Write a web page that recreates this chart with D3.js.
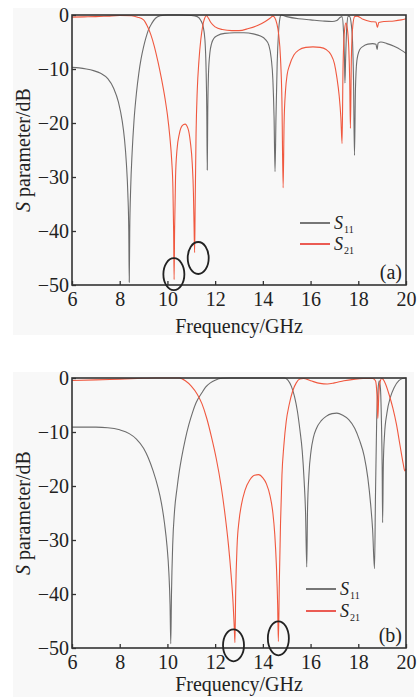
<!DOCTYPE html>
<html><head><meta charset="utf-8">
<script src="https://cdn.jsdelivr.net/npm/d3@7"></script>
<style>body{margin:0;background:#fff}svg{display:block}text{font-family:"Liberation Serif","Times New Roman",serif;fill:#222}</style>
</head><body><svg id="c" width="418" height="697"></svg>
<script>
// ---- data ----
const freqTicks = [6, 8, 10, 12, 14, 16, 18, 20];
const dbTicks = [0, -10, -20, -30, -40, -50];
const seriesNames = ["S11", "S21"];
const panelLabels = ["(a)", "(b)"];

const s11A = [[6,-9.7],[6.3,-9.8],[6.6,-10],[6.9,-10.3],[7.2,-10.8],[7.5,-11.8],[7.75,-13.6],[7.95,-16.2],[8.1,-19.5],[8.2,-23],[8.28,-27.5],[8.34,-33],[8.38,-40],[8.4,-49.5],[8.42,-40],[8.46,-32],[8.52,-25.5],[8.6,-19.5],[8.7,-14.5],[8.8,-10.8],[8.9,-8],[9,-5.9],[9.1,-4.2],[9.2,-2.8],[9.35,-1.5],[9.5,-0.6],[9.7,-0.15],[10,0],[10.5,0],[11,-0.1],[11.25,-0.3],[11.4,-1],[11.5,-2.2],[11.57,-4.5],[11.62,-10],[11.65,-18],[11.67,-28.7],[11.69,-18],[11.72,-11],[11.78,-7],[11.85,-5.3],[11.95,-4.3],[12.1,-3.8],[12.4,-3.4],[12.8,-3.3],[13.2,-3.3],[13.6,-3.5],[13.9,-3.9],[14.1,-4.5],[14.25,-5.6],[14.35,-8],[14.42,-12],[14.47,-19],[14.51,-29],[14.55,-19],[14.6,-9],[14.66,-3],[14.72,-0.5],[14.76,0],[15,-0.3],[15.5,-0.7],[16,-0.9],[16.5,-1.1],[16.9,-1.2],[17.1,-1],[17.25,-0.4],[17.32,-0.3],[17.38,-3],[17.42,-8],[17.44,-12.6],[17.47,-8],[17.52,-2],[17.58,-0.2],[17.64,-0.3],[17.7,-1.5],[17.76,-5],[17.8,-12],[17.84,-26],[17.88,-14],[17.94,-8.5],[18.05,-6.5],[18.2,-5.8],[18.4,-5.4],[18.6,-5.3],[18.74,-5.4],[18.79,-6.4],[18.83,-5.2],[18.95,-5],[19.2,-5.3],[19.5,-5.8],[19.8,-6.5],[20,-7.1]];

const s21A = [[6,-0.4],[6.5,-0.35],[7,-0.3],[7.5,-0.2],[8,-0.1],[8.5,-0.15],[8.75,-0.4],[9,-0.9],[9.15,-2],[9.3,-3.6],[9.45,-5.8],[9.6,-8.6],[9.75,-11.8],[9.9,-15.5],[10,-18.5],[10.1,-22.5],[10.18,-27],[10.23,-32],[10.26,-40],[10.28,-49],[10.3,-40],[10.34,-30],[10.4,-25],[10.5,-22],[10.62,-20.5],[10.74,-20.2],[10.86,-21],[10.96,-23.5],[11.04,-27.5],[11.09,-33],[11.12,-40],[11.14,-44],[11.16,-36],[11.2,-22],[11.25,-14],[11.32,-8.5],[11.4,-4.5],[11.48,-2],[11.56,-0.6],[11.64,-0.15],[11.72,-0.6],[11.82,-1.4],[12,-2.2],[12.3,-2.7],[12.7,-2.9],[13,-2.9],[13.4,-2.5],[13.8,-1.9],[14.1,-1.2],[14.3,-0.6],[14.42,-0.2],[14.5,-0.5],[14.58,-1.5],[14.66,-3.5],[14.74,-8],[14.8,-16],[14.85,-32],[14.89,-20],[14.95,-14],[15.02,-11],[15.12,-9.3],[15.3,-7.4],[15.5,-6.5],[15.8,-6],[16.1,-5.9],[16.4,-6],[16.65,-6.4],[16.85,-7.3],[17,-9],[17.1,-11.5],[17.2,-15],[17.27,-19],[17.32,-23.8],[17.36,-10],[17.42,-3],[17.48,-1.5],[17.54,-2.5],[17.6,-6],[17.64,-12],[17.67,-21],[17.71,-8],[17.77,-2],[17.85,-0.3],[17.95,-0.2],[18.2,-0.8],[18.5,-1.2],[18.74,-1.3],[18.8,-2.3],[18.86,-1.4],[19.1,-1.2],[19.5,-1.1],[19.8,-0.9],[20,-0.7]];

const s11B = [[6,-9.1],[6.5,-9.1],[7,-9.1],[7.5,-9.2],[8,-9.6],[8.4,-10.3],[8.7,-11.3],[9,-13],[9.2,-14.8],[9.4,-17.2],[9.6,-20.2],[9.75,-23.2],[9.88,-27],[9.98,-31],[10.06,-36],[10.11,-42],[10.14,-49.2],[10.17,-40],[10.22,-31],[10.3,-24.5],[10.4,-20.5],[10.5,-17.2],[10.6,-14.6],[10.75,-11.3],[10.9,-8.6],[11.05,-6.4],[11.2,-4.6],[11.45,-2.7],[11.6,-1.7],[11.8,-0.9],[12,-0.4],[12.3,-0.05],[12.6,0],[14.9,0],[15.05,-0.4],[15.2,-1.6],[15.33,-3.5],[15.45,-6.2],[15.55,-9.5],[15.65,-13.5],[15.73,-19],[15.79,-25],[15.84,-35],[15.87,-25],[15.93,-18],[16.02,-13.5],[16.12,-11],[16.25,-9.3],[16.45,-7.9],[16.65,-7.1],[16.9,-6.6],[17.1,-6.5],[17.35,-6.9],[17.6,-7.7],[17.85,-9.3],[18.05,-11.5],[18.25,-14.5],[18.4,-18.5],[18.52,-23.5],[18.6,-28],[18.68,-35.3],[18.72,-22],[18.77,-8],[18.83,-2],[18.88,-0.5],[18.93,-2],[18.97,-8],[19,-16],[19.02,-26.8],[19.05,-16],[19.1,-10.5],[19.2,-6.5],[19.35,-3.5],[19.5,-1.8],[19.7,-0.5],[19.85,-0.1],[20,0]];

const s21B = [[6,-0.45],[7,-0.35],[8,-0.2],[9,-0.05],[9.5,0],[10.5,0],[10.75,-0.5],[11,-1.5],[11.25,-3],[11.45,-4.8],[11.65,-7.5],[11.85,-11],[12.05,-15],[12.25,-20],[12.42,-25.5],[12.56,-31],[12.67,-36.5],[12.75,-41.5],[12.8,-46],[12.83,-49],[12.86,-40],[12.92,-31],[13,-26.5],[13.1,-23.5],[13.25,-20.8],[13.45,-18.9],[13.65,-18],[13.82,-17.9],[14,-18.5],[14.15,-19.6],[14.3,-21.8],[14.42,-25],[14.5,-29],[14.57,-35],[14.62,-42],[14.65,-48.8],[14.69,-38],[14.74,-27],[14.8,-18],[14.88,-12.5],[14.98,-8],[15.1,-5],[15.25,-2.4],[15.4,-0.9],[15.55,-0.2],[15.7,-0.1],[16,-0.5],[16.4,-1],[16.7,-1.1],[17,-0.9],[17.4,-0.5],[17.8,-0.25],[18.2,-0.1],[18.6,-0.1],[18.72,-0.5],[18.78,-3],[18.82,-7.5],[18.86,-3],[18.92,-0.6],[18.98,-0.1],[19.05,-0.3],[19.15,-1.2],[19.3,-3.2],[19.45,-5.6],[19.6,-8.6],[19.75,-12.5],[19.88,-15.8],[19.95,-17.2],[20,-16.8]];

// annotation ellipses (centres in data units)
const marksA = [[10.27,-48],[11.29,-45]];
const marksB = [[12.77,-49.5],[14.65,-48.2]];

// ---- drawing ----
const svg = d3.select("#c");
const panels = [
  {s11:s11A, s21:s21A, marks:marksA, label:panelLabels[0], top:15, bottom:285, bg:[8,335], leg:[223,244], legX:300, ry:[16,16], titleOff:48},
  {s11:s11B, s21:s21B, marks:marksB, label:panelLabels[1], top:378, bottom:648, bg:[372,697], leg:[589,611], legX:306, ry:[16,17], titleOff:43}
];
const L = 72, R = 406;
const gray = "#6d6d6d", red = "#f0583f";

panels.forEach(p => {
  const g = svg.append("g");
  g.append("rect").attr("x",13).attr("y",p.bg[0]).attr("width",401).attr("height",p.bg[1]-p.bg[0]).attr("fill","#f8f8f8");
  const x = d3.scaleLinear().domain([6,20]).range([L,R]);
  const y = d3.scaleLinear().domain([-50,0]).range([p.bottom,p.top]);
  const line = d3.line().x(d=>x(d[0])).y(d=>y(d[1])).curve(d3.curveMonotoneX);

  g.append("path").datum(p.s11).attr("d",line).attr("fill","none").attr("stroke",gray).attr("stroke-width",1.1);
  g.append("path").datum(p.s21).attr("d",line).attr("fill","none").attr("stroke",red).attr("stroke-width",1.1);

  const xa = g.append("g").attr("transform",`translate(0,${p.bottom})`)
    .call(d3.axisBottom(x).tickValues(freqTicks).tickSizeInner(-4).tickSizeOuter(0).tickPadding(7).tickFormat(d3.format("d")));
  const ya = g.append("g").attr("transform",`translate(${L},0)`)
    .call(d3.axisLeft(y).tickValues(dbTicks).tickSizeInner(-4).tickSizeOuter(0).tickPadding(3).tickFormat(d => d===0 ? "0" : "\u2212"+Math.abs(d)));
  [xa,ya].forEach(a => {
    a.attr("font-family",null);
    a.select(".domain").remove();
    a.selectAll("line").attr("stroke","#333").attr("stroke-width",1.3);
    a.selectAll("text").attr("font-size",20).attr("fill","#222").style("font-family","'Liberation Serif',serif");
  });

  g.append("rect").attr("x",L).attr("y",p.top).attr("width",R-L).attr("height",p.bottom-p.top)
    .attr("fill","none").attr("stroke","#333").attr("stroke-width",1.6);

  // axis titles
  g.append("text").attr("x",(L+R)/2).attr("y",p.bottom+p.titleOff).attr("text-anchor","middle").attr("font-size",20).text("Frequency/GHz");
  const yt = g.append("text").attr("transform",`translate(30,${(p.top+p.bottom)/2}) rotate(-90)`).attr("text-anchor","middle").attr("font-size",20);
  yt.append("tspan").attr("font-style","italic").text("S");
  yt.append("tspan").text(" parameter/dB");

  // legend
  [gray,red].forEach((c,i) => {
    const ly = p.leg[i];
    g.append("line").attr("x1",p.legX).attr("x2",p.legX+30).attr("y1",ly).attr("y2",ly).attr("stroke",i? "#e8342a":"#555").attr("stroke-width",1.6);
    const t = g.append("text").attr("x",p.legX+34).attr("y",ly+6).attr("font-size",18);
    t.append("tspan").attr("font-style","italic").text(seriesNames[i][0]);
    t.append("tspan").attr("font-size",10).attr("dy",4).attr("dx",1).text(seriesNames[i].slice(1));
  });
  g.append("text").attr("x",402).attr("y",p.bottom-6).attr("text-anchor","end").attr("font-size",20).text(p.label);

  // ellipses
  p.marks.forEach((m,i) => {
    g.append("ellipse").attr("cx",x(m[0])).attr("cy",y(m[1])).attr("rx",10.5).attr("ry",p.ry[i])
      .attr("fill","none").attr("stroke","#222").attr("stroke-width",1.8);
  });
});
</script></body></html>
